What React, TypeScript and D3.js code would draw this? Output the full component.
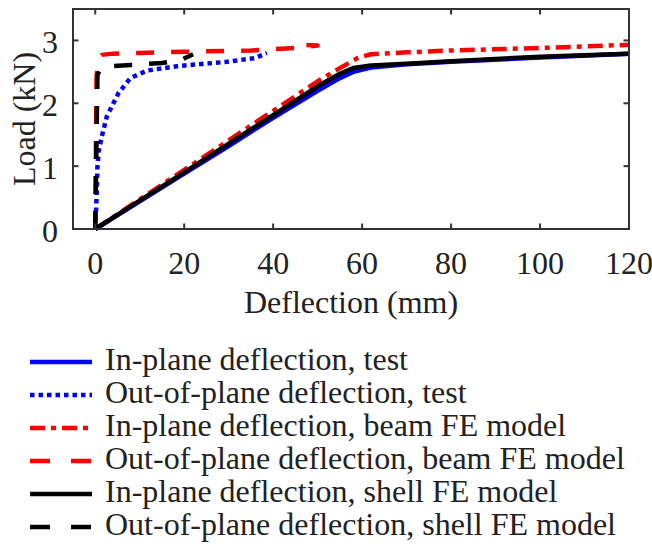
import React from "react";
import * as d3 from "d3";

type Pt = [number, number];

// Load–deflection curves (deflection in mm, load in kN)
const inPlaneTest: Pt[] = [
  [0, 0], [10, 0.44], [20, 0.88], [30, 1.32], [40, 1.77], [50, 2.2], [55, 2.4],
  [58, 2.5], [62, 2.57], [70, 2.62], [80, 2.66], [100, 2.73], [120, 2.79],
];
const outOfPlaneTest: Pt[] = [
  [0, 0], [0.3, 0.5], [0.5, 1.0], [0.8, 1.25], [1.4, 1.45], [2.6, 1.79],
  [5.2, 2.16], [7.9, 2.4], [11.6, 2.52], [18.4, 2.59], [29.6, 2.66],
  [36, 2.72], [38.6, 2.8],
];
const inPlaneBeam: Pt[] = [
  [0, 0], [10, 0.47], [20, 0.94], [30, 1.41], [40, 1.88], [50, 2.35], [55, 2.56],
  [59, 2.72], [62, 2.78], [70, 2.81], [80, 2.84], [100, 2.88], [120, 2.93],
];
const outOfPlaneBeam: Pt[] = [
  [0, 0], [0.3, 2.4], [0.6, 2.7], [1.5, 2.77], [4, 2.79], [10, 2.8], [20, 2.82],
  [35, 2.84], [45, 2.88], [50, 2.92], [46.5, 2.93], [49.5, 2.91],
];
const inPlaneShell: Pt[] = [
  [0, 0], [10, 0.45], [20, 0.9], [30, 1.36], [40, 1.81], [50, 2.27], [55, 2.47],
  [58, 2.56], [62, 2.6], [70, 2.63], [80, 2.67], [100, 2.74], [120, 2.79],
];
const outOfPlaneShell: Pt[] = [
  [0, 0], [0.3, 1.5], [0.5, 2.45], [1.2, 2.55], [3, 2.59], [8, 2.61], [15, 2.64],
  [19, 2.68], [22, 2.78],
];

const xTicks = [0, 20, 40, 60, 80, 100, 120];
const yTicks = [0, 1, 2, 3];

const seriesNames = [
  "In-plane deflection, test",
  "Out-of-plane deflection, test",
  "In-plane deflection, beam FE model",
  "Out-of-plane deflection, beam FE model",
  "In-plane deflection, shell FE model",
  "Out-of-plane deflection, shell FE model",
];
const seriesData = [inPlaneTest, outOfPlaneTest, inPlaneBeam, outOfPlaneBeam, inPlaneShell, outOfPlaneShell];
const seriesColors = ["#0000ff", "#0000ff", "#ff0000", "#ff0000", "#000000", "#000000"];
const seriesDash = ["none", "4.5,4", "15,6,5,6", "18,17", "none", "18,17"];

const FONT =
  '"Liberation Serif", Tinos, "Nimbus Roman", "Nimbus Roman No9 L", FreeSerif, "Times New Roman", Times, "DejaVu Serif", "Noto Serif", serif';
const TEXT = "#222";

export default function App() {
  const box = { left: 73, top: 9, right: 629, bottom: 229 };
  const x = d3.scaleLinear().domain([-5, 120]).range([box.left, box.right]);
  const y = d3.scaleLinear().domain([0, 3.5]).range([box.bottom, box.top]);
  const line = d3
    .line<Pt>()
    .x((d) => x(d[0]))
    .y((d) => y(d[1]));

  const tick = 5.5;
  const legendY0 = 362;
  const legendStep = 33;
  const textStyle = { fontFamily: FONT, fontSize: "32px", fill: TEXT } as React.CSSProperties;

  return (
    <svg width={652} height={544} style={{ position: "absolute", left: 0, top: 0, background: "#fff" }}>
      <defs>
        <clipPath id="plotClip">
          <rect x={box.left} y={box.top - 2} width={box.right - box.left} height={box.bottom - box.top + 4} />
        </clipPath>
      </defs>
      <rect width={652} height={544} fill="#fff" />

      <g clipPath="url(#plotClip)">
        {seriesData.map((d, i) => (
          <path
            key={i}
            d={line(d) || ""}
            fill="none"
            stroke={seriesColors[i]}
            strokeWidth={4.5}
            strokeDasharray={seriesDash[i]}
            strokeLinejoin="round"
          />
        ))}
      </g>

      {/* axes box with inward ticks on all sides */}
      <rect
        x={box.left}
        y={box.top}
        width={box.right - box.left}
        height={box.bottom - box.top}
        fill="none"
        stroke="#333"
        strokeWidth={2}
      />
      {xTicks.map((t) => (
        <g key={"xt" + t} stroke="#333" strokeWidth={2}>
          <line x1={x(t)} x2={x(t)} y1={box.bottom} y2={box.bottom - tick} />
          <line x1={x(t)} x2={x(t)} y1={box.top} y2={box.top + tick} />
        </g>
      ))}
      {yTicks.map((t) => (
        <g key={"yt" + t} stroke="#333" strokeWidth={2}>
          <line x1={box.left} x2={box.left + tick} y1={y(t)} y2={y(t)} />
          <line x1={box.right} x2={box.right - tick} y1={y(t)} y2={y(t)} />
        </g>
      ))}

      <g style={textStyle}>
        {xTicks.map((t) => (
          <text key={"xl" + t} x={x(t)} y={274} textAnchor="middle" style={textStyle}>
            {t}
          </text>
        ))}
        {yTicks.map((t) => (
          <text key={"yl" + t} x={58} y={y(t) + 13} textAnchor="end" style={textStyle}>
            {t}
          </text>
        ))}
        <text x={(box.left + box.right) / 2} y={313} textAnchor="middle" style={textStyle}>
          Deflection (mm)
        </text>
        <text
          transform={`translate(35, ${(box.top + box.bottom) / 2}) rotate(-90)`}
          textAnchor="middle"
          style={textStyle}
        >
          Load (kN)
        </text>
      </g>

      {/* legend */}
      <g>
        {seriesNames.map((name, i) => {
          const ly = legendY0 + i * legendStep;
          return (
            <g key={name}>
              <line
                x1={30}
                x2={92}
                y1={ly}
                y2={ly}
                stroke={seriesColors[i]}
                strokeWidth={4.5}
                strokeDasharray={seriesDash[i] === "18,17" ? "20,21" : seriesDash[i]}
              />
              <text x={105} y={ly + 8} style={textStyle}>
                {name}
              </text>
            </g>
          );
        })}
      </g>
    </svg>
  );
}
